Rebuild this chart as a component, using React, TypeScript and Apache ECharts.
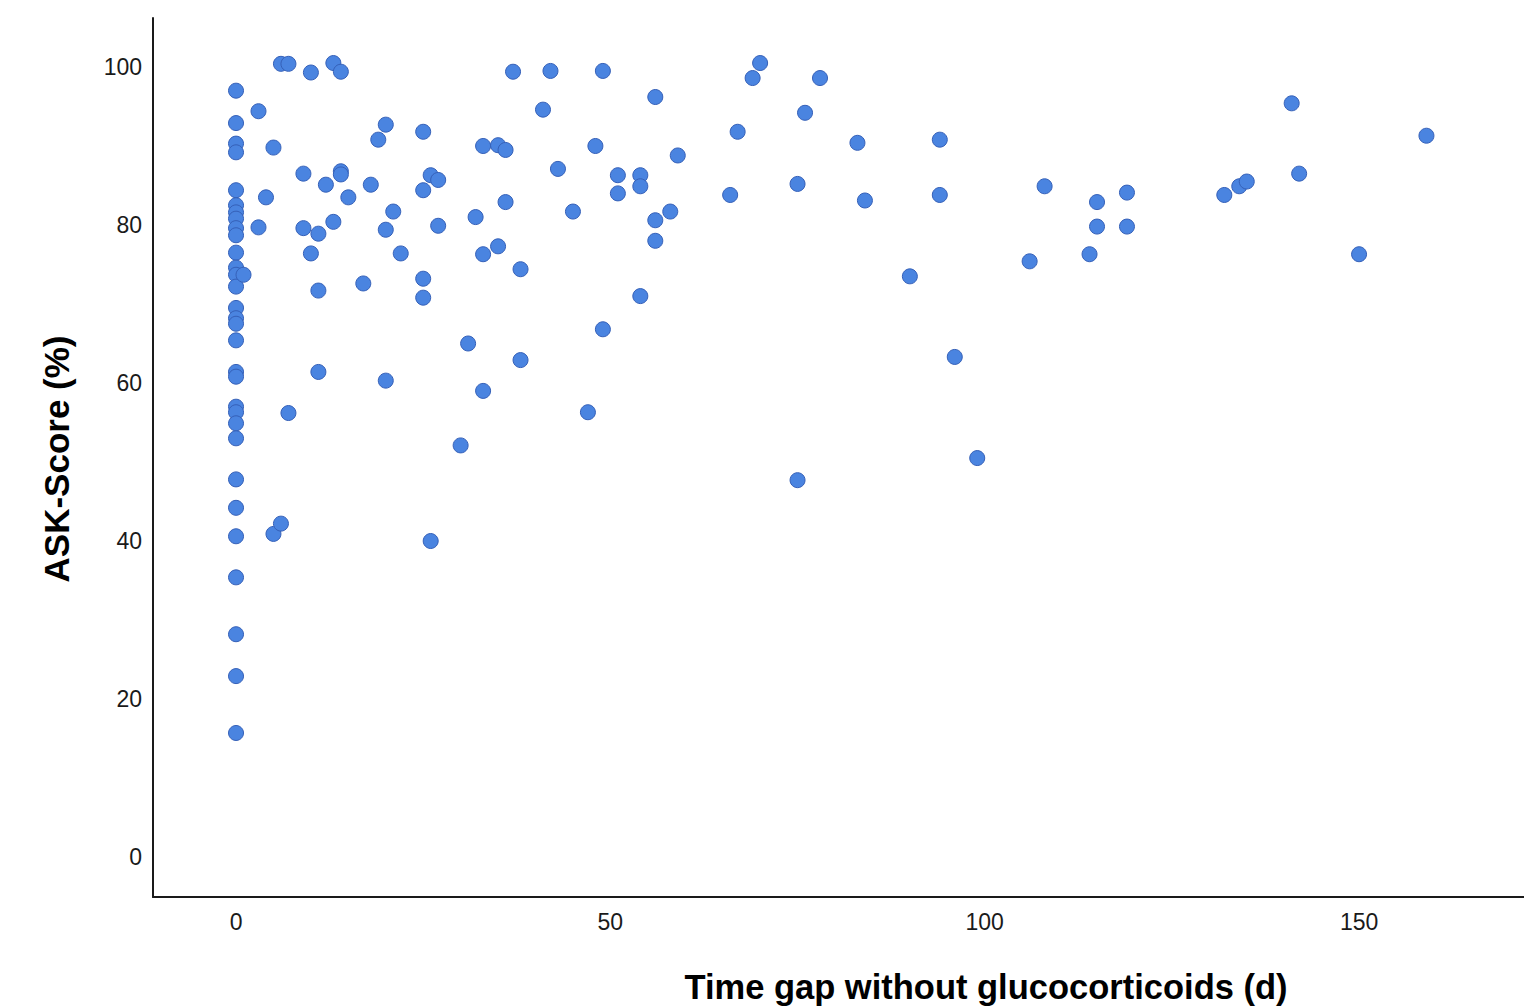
import React, { useEffect, useRef } from "react";
import * as echarts from "echarts";

// Time gap without glucocorticoids (days) for each patient
const timeGapDays: number[] = [
  0, 0, 0, 0, 0, 0, 0, 0, 0, 0, 0, 0, 0, 0, 0, 0, 0, 0, 0, 0, 0, 0, 0, 0, 0, 0, 0, 0, 0, 0, 0,
  1, 3, 3, 4, 5, 5, 6, 6, 7, 7, 9, 9, 10, 10, 11, 11, 11, 12, 13, 13, 14, 14, 14, 15, 17, 18, 19,
  20, 20, 20, 21, 22, 25, 25, 25, 25, 26, 26, 27, 27, 30, 31, 32, 33, 33, 33, 35, 35, 36, 36, 37,
  38, 38, 41, 42, 43, 45, 47, 48, 49, 49, 51, 51, 54, 54, 54, 56, 56, 56, 58, 59, 66, 67, 69, 70,
  75, 75, 76, 78, 83, 84, 90, 94, 94, 96, 99, 106, 108, 114, 115, 115, 119, 119, 132, 134, 135,
  141, 142, 150, 159,
];

// ASK-Score (%) for each patient, same order as timeGapDays
const askScores: number[] = [
  97.0, 92.9, 90.3, 89.2, 84.4, 82.5, 81.6, 80.8, 79.6, 78.7, 76.5, 74.6, 73.7, 72.2, 69.5, 68.2,
  67.5, 65.4, 61.4, 60.8, 57.0, 56.3, 54.9, 53.0, 47.8, 44.2, 40.6, 35.4, 28.2, 22.9, 15.7,
  73.7, 94.4, 79.7, 83.5, 89.8, 40.9, 100.4, 42.2, 100.4, 56.2, 86.5, 79.6, 99.3, 76.4, 78.9, 71.7,
  61.4, 85.1, 100.5, 80.4, 99.4, 86.8, 86.4, 83.5, 72.6, 85.1, 90.8,
  92.7, 79.4, 60.3, 81.7, 76.4, 91.8, 84.4, 73.2, 70.8, 86.3, 40.0, 85.7, 79.9, 52.1, 65.0, 81.0,
  90.0, 76.3, 59.0, 90.1, 77.3, 89.5, 82.9, 99.4,
  74.4, 62.9, 94.6, 99.5, 87.1, 81.7, 56.3, 90.0, 99.5, 66.8, 86.3, 84.0, 86.3, 84.9, 71.0, 96.2,
  80.6, 78.0, 81.7, 88.8, 83.8, 91.8, 98.6, 100.5,
  85.2, 47.7, 94.2, 98.6, 90.4, 83.1, 73.5, 90.8, 83.8, 63.3, 50.5, 75.4, 84.9, 76.3, 82.9, 79.8,
  84.1, 79.8, 83.8, 84.9, 85.5,
  95.4, 86.5, 76.3, 91.3,
];

const xTickValues: number[] = [0, 50, 100, 150];
const yTickValues: number[] = [0, 20, 40, 60, 80, 100];

const xTitle = "Time gap without glucocorticoids (d)";
const yTitle = "ASK-Score (%)";

export default function App() {
  const ref = useRef<HTMLDivElement>(null);

  useEffect(() => {
    if (!ref.current) return;
    const chart = echarts.init(ref.current, undefined, { renderer: "svg" });
    const points = timeGapDays.map((d, i) => [d, askScores[i]]);
    const font = "'Liberation Sans', Arial, sans-serif";

    chart.setOption({
      animation: false,
      backgroundColor: "#ffffff",
      grid: { left: 153, top: 18, width: 1371, height: 879, containLabel: false },
      xAxis: {
        type: "value",
        min: -11.09,
        max: 172.03,
        splitLine: { show: false },
        axisLine: { show: true, onZero: false, lineStyle: { color: "#1a1a1a", width: 2 } },
        axisTick: { show: false },
        axisLabel: {
          customValues: xTickValues,
          color: "#1a1a1a",
          fontSize: 23,
          fontFamily: font,
          margin: 13,
        },
      },
      yAxis: {
        type: "value",
        min: -5.06,
        max: 106.2,
        splitLine: { show: false },
        axisLine: { show: true, onZero: false, lineStyle: { color: "#1a1a1a", width: 2 } },
        axisTick: { show: false },
        axisLabel: {
          customValues: yTickValues,
          color: "#1a1a1a",
          fontSize: 23,
          fontFamily: font,
          margin: 11,
        },
      },
      graphic: [
        {
          type: "text",
          x: 986,
          y: 987,
          style: {
            text: xTitle,
            fill: "#000000",
            font: `bold 34.5px ${font}`,
            align: "center",
            verticalAlign: "middle",
          },
          z: 10,
        },
        {
          type: "text",
          x: 56,
          y: 459,
          rotation: Math.PI / 2,
          style: {
            text: yTitle,
            fill: "#000000",
            font: `bold 35px ${font}`,
            align: "center",
            verticalAlign: "middle",
          },
          z: 10,
        },
      ],
      series: [
        {
          type: "scatter",
          data: points,
          symbol: "circle",
          symbolSize: 15,
          itemStyle: {
            color: "#4a84e0",
            borderColor: "#3560b8",
            borderWidth: 1,
            opacity: 1,
          },
        },
      ],
    });

    return () => chart.dispose();
  }, []);

  return (
    <div
      ref={ref}
      style={{ position: "absolute", left: 0, top: 0, width: 1524, height: 1007 }}
    />
  );
}
